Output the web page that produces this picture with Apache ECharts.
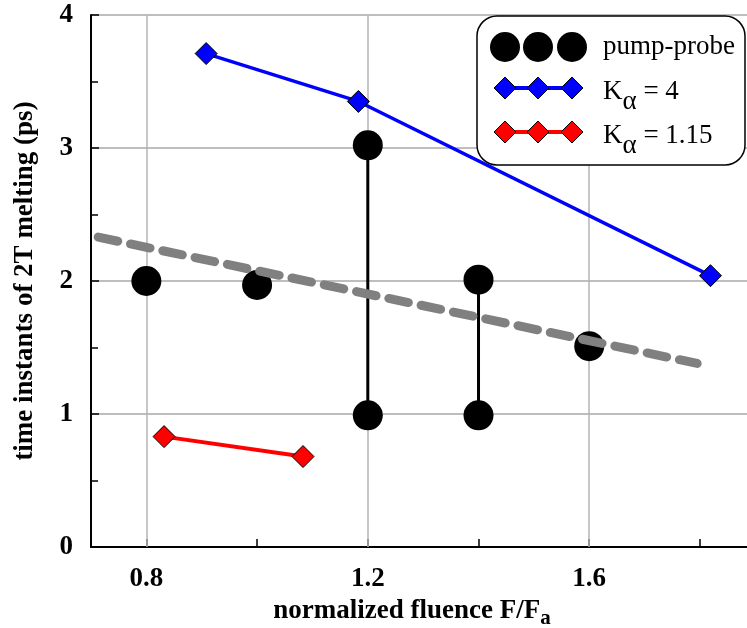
<!DOCTYPE html>
<html>
<head>
<meta charset="utf-8">
<script src="https://cdn.jsdelivr.net/npm/echarts@6/dist/echarts.min.js"></script>
<style>
  html, body { margin: 0; padding: 0; background: #fff; }
  #chart { width: 747px; height: 628px; }
</style>
</head>
<body>
<div id="chart"></div>
<script>
// axis ticks
const xTicks = [0.8, 1.0, 1.2, 1.4, 1.6, 1.8]
const xLabels = [0.8, 1.2, 1.6]

// pump-probe measurements
const ppX = [0.8, 1.0, 1.2, 1.2, 1.4, 1.4, 1.6]
const ppY = [2.0, 1.97, 3.02, 0.99, 2.01, 0.99, 1.51]

// K_alpha = 4
const k4X = [0.908, 1.183, 1.819]
const k4Y = [3.71, 3.35, 2.04]

// K_alpha = 1.15
const k115X = [0.832, 1.083]
const k115Y = [0.83, 0.68]

// dashed trend line
const fitX = [0.713, 1.795]
const fitY = [2.33, 1.38]

const font = 'Liberation Serif'
const zip = (xs, ys) => xs.map((x, i) => [x, ys[i]])

// vertical bars joining pump-probe points measured at the same fluence
let groups = {}
ppX.forEach((x, i) => {
  (groups[x] = groups[x] || []).push([x, ppY[i]])
})
let barSeries = Object.keys(groups)
  .filter(k => groups[k].length > 1)
  .map(k => ({
    type: 'line',
    data: groups[k],
    symbol: 'none',
    lineStyle: { color: '#000', width: 3 },
    z: 3,
    silent: true
  }))

let myChart = echarts.init(document.getElementById('chart'))

function diamond (cx, cy, color) {
  return {
    type: 'polygon',
    shape: { points: [[cx, cy - 11], [cx + 11, cy], [cx, cy + 11], [cx - 11, cy]] },
    style: { fill: color, stroke: '#000', lineWidth: 1 },
    z: 102
  }
}
const legendRich = {
  t: { fontFamily: font, fontSize: 27, color: '#000' },
  a: { fontFamily: font, fontSize: 27, color: '#000', padding: [20, 0, 0, 0] }
}
function legendText (x, y, text) {
  return {
    type: 'text', x, y, z: 103,
    style: { text, rich: legendRich, verticalAlign: 'middle' }
  }
}
let legendXs = [505, 538, 572]
let legend = [
  {
    type: 'rect',
    shape: { x: 477, y: 16, width: 268, height: 149, r: 20 },
    style: { fill: '#fff', stroke: '#000', lineWidth: 1.5 },
    z: 100
  },
  ...legendXs.map(cx => ({
    type: 'circle', shape: { cx, cy: 47, r: 15 }, style: { fill: '#000' }, z: 102
  })),
  { type: 'line', shape: { x1: 505, y1: 88, x2: 572, y2: 88 }, style: { stroke: '#0000ff', lineWidth: 4 }, z: 101 },
  ...legendXs.map(cx => diamond(cx, 88, '#0000ff')),
  { type: 'line', shape: { x1: 505, y1: 132, x2: 572, y2: 132 }, style: { stroke: '#ff0000', lineWidth: 4 }, z: 101 },
  ...legendXs.map(cx => diamond(cx, 132, '#ff0000')),
  legendText(603, 47, '{t|pump-probe}'),
  legendText(603, 92, '{t|K}{a|α}{t| = 4}'),
  legendText(603, 136, '{t|K}{a|α}{t| = 1.15}')
]

let options = {
  animation: false,
  grid: {
    left: 91,
    top: 15,
    right: 0,
    bottom: 81,
    outerBoundsMode: 'none'
  },
  xAxis: {
    type: 'value',
    min: 0.7,
    max: 1.885,
    name: '{t|normalized fluence F/F}{s|a}',
    nameLocation: 'middle',
    nameGap: 44,
    nameTextStyle: {
      padding: [0, 14, 0, 0],
      rich: {
        t: { fontFamily: font, fontWeight: 'bold', fontSize: 27, color: '#000' },
        s: { fontFamily: font, fontWeight: 'bold', fontSize: 21, color: '#000', padding: [14, 0, 0, 0] }
      }
    },
    axisLine: { lineStyle: { color: '#000', width: 2 } },
    axisTick: { inside: true, length: 8, customValues: xTicks, lineStyle: { color: '#000', width: 1.5 } },
    axisLabel: {
      customValues: xLabels,
      margin: 19,
      fontFamily: font,
      fontWeight: 'bold',
      fontSize: 27,
      color: '#000',
      formatter: v => v.toFixed(1)
    },
    splitLine: { show: false }
  },
  yAxis: {
    type: 'value',
    min: 0,
    max: 4,
    interval: 1,
    name: 'time instants of 2T melting (ps)',
    nameLocation: 'middle',
    nameGap: 52,
    nameTextStyle: { fontFamily: font, fontWeight: 'bold', fontSize: 27, color: '#000' },
    axisLine: { show: true, lineStyle: { color: '#000', width: 2 } },
    axisTick: { inside: true, length: 8, lineStyle: { color: '#000', width: 1.5 } },
    minorTick: { show: true, splitNumber: 2, length: 7, lineStyle: { color: '#000', width: 1.5 } },
    axisLabel: { margin: 18, fontFamily: font, fontWeight: 'bold', fontSize: 27, color: '#000' },
    splitLine: { lineStyle: { color: '#a8a8a8', width: 1.5 } }
  },
  graphic: legend,
  series: [
    {
      // vertical grid lines at labelled x values
      type: 'line',
      data: [],
      silent: true,
      z: 1,
      markLine: {
        silent: true,
        z: 1,
        symbol: 'none',
        label: { show: false },
        lineStyle: { color: '#b4b4b4', width: 1.5, type: 'solid' },
        data: xLabels.map(v => ({ xAxis: v }))
      }
    },
    ...barSeries,
    {
      name: 'pump-probe',
      type: 'scatter',
      data: zip(ppX, ppY),
      symbol: 'circle',
      symbolSize: 30,
      itemStyle: { color: '#000', opacity: 1 },
      z: 4
    },
    {
      name: 'fit',
      type: 'line',
      data: zip(fitX, fitY),
      symbol: 'none',
      lineStyle: { color: '#808080', width: 9, type: [20, 13], cap: 'round' },
      z: 5
    },
    {
      name: 'Kα = 4',
      type: 'line',
      data: zip(k4X, k4Y),
      symbol: 'diamond',
      symbolSize: 22,
      showAllSymbol: true,
      lineStyle: { color: '#0000ff', width: 3.5 },
      itemStyle: { color: '#0000ff', borderColor: '#000', borderWidth: 1 },
      z: 6
    },
    {
      name: 'Kα = 1.15',
      type: 'line',
      data: zip(k115X, k115Y),
      symbol: 'diamond',
      symbolSize: 22,
      lineStyle: { color: '#ff0000', width: 4 },
      itemStyle: { color: '#ff0000', borderColor: '#000', borderWidth: 1 },
      z: 6
    }
  ]
}
myChart.setOption(options)
</script>
</body>
</html>
